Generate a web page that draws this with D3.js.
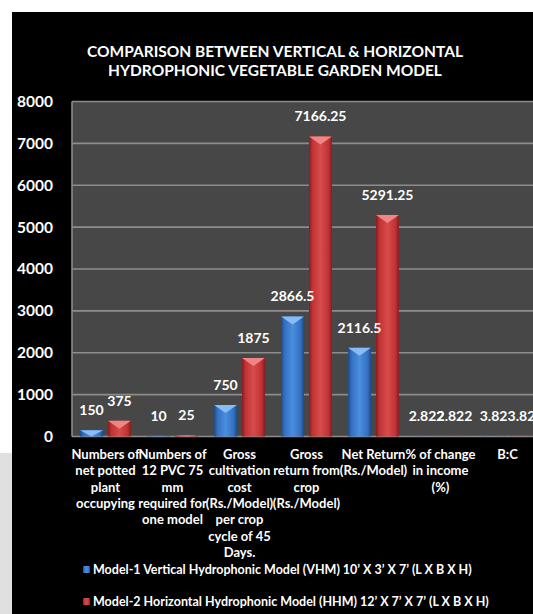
<!DOCTYPE html>
<html>
<head>
<meta charset="utf-8">
<script src="https://cdn.jsdelivr.net/npm/d3@7"></script>
<style>
  body { margin: 0; background: #fff; }
  text { font-family: Lato, "Open Sans", sans-serif; font-weight: bold; fill: #fff; }
</style>
</head>
<body>
<div id="chart"></div>
<script>
// Chart data
const categories = ["c1", "c2", "c3", "c4", "c5", "c6", "c7"];
const categoryLines = [
  ["Numbers of", "net potted", "plant", "occupying"],
  ["Numbers of", "12 PVC 75", "mm", "required for", "one model"],
  ["Gross", "cultivation", "cost", "(Rs./Model)", "per crop", "cycle of 45", "Days."],
  ["Gross", "return from", "crop", "(Rs./Model)"],
  ["Net Return", "(Rs./Model)"],
  ["% of change", "in income", "(%)"],
  ["B:C"]
];
const seriesNames = [
  "Model-1 Vertical Hydrophonic Model (VHM) 10\u2019 X 3\u2019 X 7\u2019 (L X B X H)",
  "Model-2 Horizontal Hydrophonic Model (HHM) 12\u2019  X 7\u2019 X 7\u2019 (L X B X H)"
];
const model1 = [150, 10, 750, 2866.5, 2116.5, 2.822, 3.82];
const model2 = [375, 25, 1875, 7166.25, 5291.25, 2.822, 3.82];
const yTicks = [0, 1000, 2000, 3000, 4000, 5000, 6000, 7000, 8000];
const titleLines = ["COMPARISON BETWEEN VERTICAL & HORIZONTAL", "HYDROPHONIC VEGETABLE GARDEN MODEL"];

const W = 533, H = 614;
const plot = {left: 72, top: 101.5, bottom: 436.5, right: 541};

const svg = d3.select("#chart").append("svg")
    .attr("width", W)
    .attr("height", H);

// gradients for the bars
const defs = svg.append("defs");
const palettes = [
  {id: "gBlue", edge: "#1d4a86", mid: "#3570c0", hi: "#4a8ee0", top: "#86bdf5"},
  {id: "gRed", edge: "#861c1e", mid: "#bf3335", hi: "#d94b4b", top: "#f08585"}
];
palettes.forEach(p => {
  const g = defs.append("linearGradient").attr("id", p.id).attr("x1", "0%").attr("x2", "100%");
  [[0, p.edge], [0.15, p.mid], [0.5, p.hi], [0.85, p.mid], [1, p.edge]].forEach(s => {
    g.append("stop").attr("offset", s[0]).attr("stop-color", s[1]);
  });
});

// backgrounds
svg.append("rect").attr("x", 0).attr("y", 453).attr("width", 12).attr("height", H - 453).attr("fill", "#e0e0e0");
svg.append("rect").attr("x", 12).attr("y", 12).attr("width", W - 12).attr("height", H - 12).attr("fill", "#000");

// title
svg.selectAll(".title").data(titleLines).join("text")
    .attr("class", "title")
    .attr("x", 275)
    .attr("y", (d, i) => 56.5 + i * 19)
    .attr("text-anchor", "middle")
    .style("font-size", "15.5px")
    .text(d => d);

// scales
const x0 = d3.scaleBand().domain(categories).range([plot.left, plot.right]);
const x1 = d3.scaleBand().domain([0, 1]).range([0, x0.bandwidth()])
    .paddingInner(0.18).paddingOuter(0.29);
const y = d3.scaleLinear().domain([0, 8000]).range([plot.bottom, plot.top]);

// plot area
svg.append("rect")
    .attr("x", plot.left).attr("y", plot.top)
    .attr("width", plot.right - plot.left).attr("height", plot.bottom - plot.top)
    .attr("fill", "#474747");

// gridlines
svg.selectAll(".grid").data(yTicks).join("line")
    .attr("x1", plot.left).attr("x2", plot.right)
    .attr("y1", d => y(d)).attr("y2", d => y(d))
    .attr("stroke", "#8c8c8c").attr("stroke-width", 1.6);
svg.append("line")
    .attr("x1", plot.left).attr("x2", plot.left)
    .attr("y1", plot.top).attr("y2", plot.bottom)
    .attr("stroke", "#8c8c8c").attr("stroke-width", 1.6);

// Y axis labels
const yAxis = svg.append("g")
    .attr("transform", `translate(${plot.left},0)`)
    .call(d3.axisLeft(y).tickValues(yTicks).tickSize(0).tickPadding(19).tickFormat(d3.format("d")));
yAxis.select(".domain").remove();
yAxis.selectAll("text").style("font-size", "15.5px").attr("fill", "#fff").attr("font-family", null);

// bars
const rows = categories.map((c, i) => ({c: c, vals: [model1[i], model2[i]]}));
const flat = [];
rows.forEach(r => r.vals.forEach((v, k) => flat.push({c: r.c, v: v, k: k})));
const bx = d => x0(d.c) + x1(d.k);

const bars = svg.append("g").selectAll("g").data(flat).join("g");
bars.append("rect")
    .attr("x", bx)
    .attr("y", d => y(d.v))
    .attr("width", x1.bandwidth())
    .attr("height", d => y(0) - y(d.v))
    .attr("fill", d => `url(#${palettes[d.k].id})`);
// bevelled top
bars.filter(d => y(0) - y(d.v) > 1).append("path")
    .attr("d", d => {
      const xa = bx(d), w = x1.bandwidth(), t = y(d.v);
      const h = Math.min(8, (y(0) - t));
      return `M${xa},${t}L${xa + w},${t}L${xa + w / 2},${t + h}Z`;
    })
    .attr("fill", d => palettes[d.k].top);

// value labels (drawn on top of all bars)
svg.append("g").selectAll("text").data(flat).join("text")
    .attr("x", d => bx(d) + x1.bandwidth() / 2)
    .attr("y", d => y(d.v) - 15)
    .attr("text-anchor", "middle")
    .style("font-size", "14px")
    .text(d => String(d.v));

// X axis category labels
const xAxis = svg.append("g")
    .attr("transform", `translate(0,${plot.bottom})`)
    .call(d3.axisBottom(x0).tickSize(0).tickFormat(""));
xAxis.select(".domain").remove();
xAxis.selectAll(".tick").each(function(d, i) {
  const t = d3.select(this).select("text")
      .attr("y", 0).attr("dy", null)
      .attr("fill", "#fff").attr("font-family", null)
      .style("font-size", "13px");
  categoryLines[i].forEach((line, j) => {
    t.append("tspan").attr("x", 0).attr("y", 22.5 + j * 16.3).text(line);
  });
});

// legend
const legend = svg.selectAll(".legend").data(seriesNames).join("g")
    .attr("transform", (d, i) => `translate(83,${566 + i * 32})`);
legend.append("rect")
    .attr("width", 7).attr("height", 7)
    .attr("fill", (d, i) => `url(#${palettes[i].id})`);
legend.append("text")
    .attr("x", 10).attr("y", 7.5)
    .style("font-size", "12.5px")
    .text(d => d);
</script>
</body>
</html>
